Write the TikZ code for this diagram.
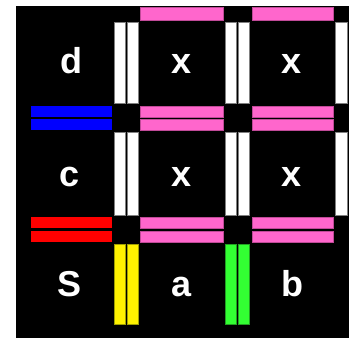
\documentclass[tikz,border=0pt]{standalone}
\usepackage{fontspec}
\setmainfont{Liberation Sans}
\definecolor{pinkbar}{HTML}{FF66CC}
\definecolor{pinkedge}{HTML}{C04A98}
\definecolor{greenbar}{HTML}{33FF33}
\definecolor{greenedge}{HTML}{22A022}
\definecolor{yellowedge}{HTML}{A0A000}
\begin{document}
\begin{tikzpicture}[x=1pt,y=-1pt,
  whitebar/.style={fill=white,draw=gray,line width=0.4pt},
  pinkb/.style={fill=pinkbar,draw=pinkedge,line width=0.4pt},
  blueb/.style={fill=blue},
  redb/.style={fill=red},
  yellowb/.style={fill=yellow,draw=yellowedge,line width=0.4pt},
  greenb/.style={fill=greenbar,draw=greenedge,line width=0.4pt},
  lbl/.style={text=white,font=\bfseries\fontsize{36}{36}\selectfont,anchor=base,inner sep=0pt}]
\useasboundingbox (0,0) rectangle (353,338);
\fill[white] (0,0) rectangle (353,338);
\fill[black] (16,6) rectangle (349,338);
% vertical white bars, rows 1 and 2
\foreach \ya/\yb in {22/103,132/215}{
  \foreach \xa/\xb in {114/125,127/138,225/236,238/249,335/347}{
    \draw[whitebar] (\xa,\ya) rectangle (\xb,\yb);
  }
}
% pink top bars
\draw[pinkb] (140,7) rectangle (223,20);
\draw[pinkb] (252,7) rectangle (333,20);
% pink double bars
\foreach \ya/\yb in {106/117,119/130,217/228,231/242}{
  \draw[pinkb] (140,\ya) rectangle (223,\yb);
  \draw[pinkb] (252,\ya) rectangle (333,\yb);
}
% blue and red
\fill[blueb] (31,106) rectangle (112,117);
\fill[blueb] (31,119) rectangle (112,130);
\fill[redb] (31,217) rectangle (112,228);
\fill[redb] (31,231) rectangle (112,242);
% yellow and green
\draw[yellowb] (114,244) rectangle (125,324);
\draw[yellowb] (127,244) rectangle (138,324);
\draw[greenb] (225,244) rectangle (236,324);
\draw[greenb] (238,244) rectangle (249,324);
% labels
\node[lbl] (d)  at (71,73) {d};
\node[lbl] (x1) at (181.5,73) {x};
\node[lbl] (x2) at (292,73) {x};
\node[lbl] (c)  at (70,186) {c};
\node[lbl] (x3) at (181.5,186) {x};
\node[lbl] (x4) at (292,186) {x};
\node[lbl] (S)  at (70,296) {S};
\node[lbl] (a)  at (181.5,296) {a};
\node[lbl] (b)  at (292,296) {b};
\end{tikzpicture}
\end{document}
